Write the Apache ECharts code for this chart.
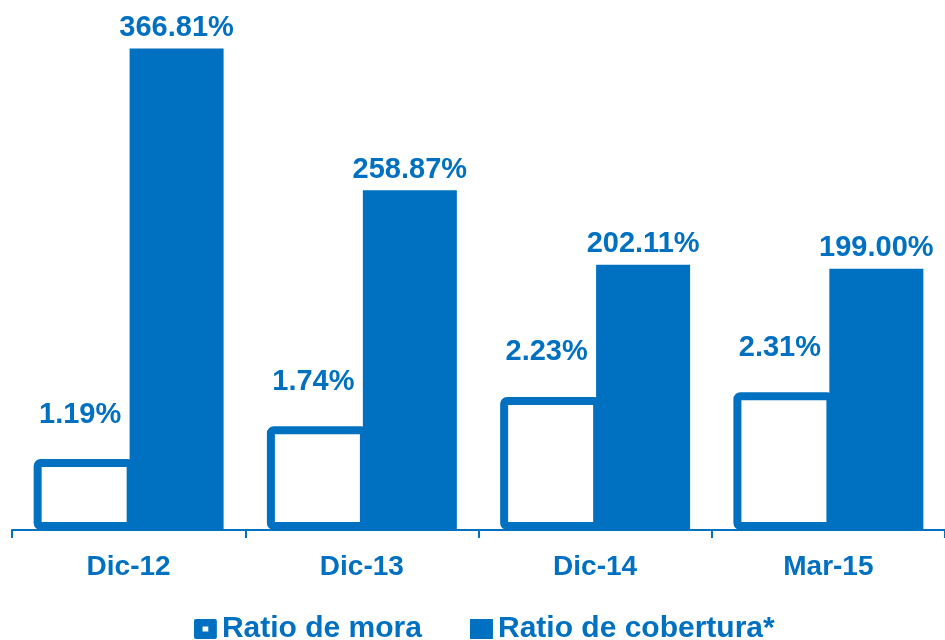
<!DOCTYPE html>
<html>
<head>
<meta charset="utf-8">
<script src="https://cdn.jsdelivr.net/npm/echarts@6/dist/echarts.min.js"></script>
<style>
  html, body { margin: 0; padding: 0; background: #fff; }
  #chart { width: 945px; height: 640px; }
</style>
</head>
<body>
<div id="chart"></div>
<script>
// periodos
const periods = ['Dic-12', 'Dic-13', 'Dic-14', 'Mar-15']
// ratio de mora (%)
const moraValues = [1.19, 1.74, 2.23, 2.31]
// ratio de cobertura (%)
const coberturaValues = [366.81, 258.87, 202.11, 199.00]

const blue = '#0070C0'
const font = 'Liberation Sans, Arial, sans-serif'

const myChart = echarts.init(document.getElementById('chart'))
myChart.setOption({
  animation: false,
  grid: { left: 12, right: -4, top: 5, bottom: 110 },
  legend: {
    left: 189,
    top: 609,
    itemGap: 48,
    itemWidth: 23,
    itemHeight: 20,
    textStyle: { color: blue, fontFamily: font, fontWeight: 'bold', fontSize: 30 },
    data: [
      {
        name: 'Ratio de mora',
        icon: 'path://M2,0H22Q24,0 24,2V19Q24,21 22,21H2Q0,21 0,19V2Q0,0 2,0Z M9,8V13H15V8Z',
        itemStyle: { color: blue, borderWidth: 0 }
      },
      {
        name: 'Ratio de cobertura*',
        icon: 'rect',
        itemStyle: { color: blue, borderWidth: 0 }
      }
    ]
  },
  xAxis: {
    type: 'category',
    data: periods,
    axisLine: { lineStyle: { color: blue, width: 2 } },
    axisTick: { show: true, interval: 0, length: 8, lineStyle: { color: blue, width: 2 } },
    axisLabel: { color: blue, fontFamily: font, fontWeight: 'bold', fontSize: 28, margin: 23 }
  },
  yAxis: [
    { type: 'value', min: 0, max: 8.8, show: false, splitLine: { show: false } },
    { type: 'value', min: 0, max: 400, show: false, splitLine: { show: false } }
  ],
  series: [
    {
      name: 'Ratio de mora',
      type: 'bar',
      yAxisIndex: 0,
      barWidth: 101,
      barGap: '-5%',
      data: moraValues,
      itemStyle: { color: '#fff', borderColor: blue, borderWidth: 8, borderRadius: 3 },
      label: {
        show: true,
        position: 'top',
        distance: 30,
        offset: [-4, 0],
        color: blue,
        fontFamily: font,
        fontWeight: 'bold',
        fontSize: 29,
        formatter: p => p.value.toFixed(2) + '%'
      }
    },
    {
      name: 'Ratio de cobertura*',
      type: 'bar',
      yAxisIndex: 1,
      barWidth: 94,
      data: coberturaValues,
      itemStyle: { color: blue },
      label: {
        show: true,
        position: 'top',
        distance: 6,
        color: blue,
        fontFamily: font,
        fontWeight: 'bold',
        fontSize: 29,
        formatter: p => p.value.toFixed(2) + '%'
      }
    }
  ]
})
</script>
</body>
</html>
